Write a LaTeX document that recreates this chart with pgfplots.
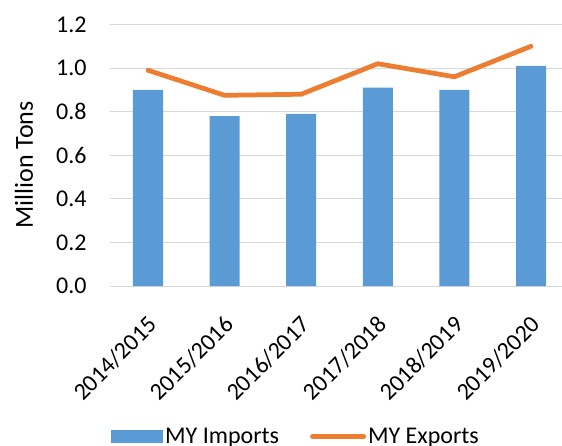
\documentclass[border=0pt]{standalone}
\usepackage{fontspec}
\setmainfont{Carlito}
\usepackage{pgfplots}
\pgfplotsset{compat=1.18}
\definecolor{barblue}{HTML}{5B9BD5}
\definecolor{lineorange}{HTML}{ED7D31}
\definecolor{gridgray}{HTML}{D9D9D9}
\begin{document}
\begin{tikzpicture}[x=1pt,y=1pt]
\useasboundingbox (0,0) rectangle (562,445);
\clip (0,0) rectangle (562,445);
\begin{axis}[
  at={(109.7pt,159pt)}, anchor=south west,
  scale only axis, width=459.6pt, height=261.5pt,
  xmin=-0.5, xmax=5.5, ymin=0, ymax=1.2,
  ytick={0,0.2,0.4,0.6,0.8,1.0,1.2},
  xtick={0,1,2,3,4,5},
  xticklabels={2014/2015,2015/2016,2016/2017,2017/2018,2018/2019,2019/2020},
  ymajorgrids, grid style={gridgray, line width=1pt},
  axis line style={draw=none},
  major tick length=0pt,
  tick label style={font=\fontsize{24}{28}\selectfont},
  /pgf/number format/assume math mode=true,
  yticklabel style={/pgf/number format/fixed, /pgf/number format/fixed zerofill, /pgf/number format/precision=1, inner sep=0pt, anchor=east, xshift=-23pt},
  xticklabel style={rotate=45, anchor=north east, inner sep=0pt, xshift=-21pt, yshift=-19pt},
  ylabel={Million Tons},
  ylabel style={font=\fontsize{26}{31}\selectfont, at={(axis description cs:-0.1865,0.463)}, anchor=center},
  legend columns=2,
  legend style={draw=none, fill=none, at={(axis description cs:0.0028,-0.5763)}, anchor=west, font=\fontsize{24}{28}\selectfont, inner sep=0pt, /tikz/every even column/.append style={column sep=29pt}},
]
\addplot[ybar, bar width=30pt, fill=barblue, draw=none,
  legend image code/.code={\fill[barblue] (0pt,-6.5pt) rectangle (52pt,6.5pt);}]
  coordinates {(0,0.90) (1,0.78) (2,0.79) (3,0.91) (4,0.90) (5,1.01)};
\addlegendentry{MY Imports}
\addplot[lineorange, line width=4.75pt, line cap=round, line join=round,
  legend image code/.code={\draw[lineorange, line width=4.75pt, line cap=round] (2.4pt,0pt) -- (53.6pt,0pt);}]
  coordinates {(0,0.99) (1,0.875) (2,0.88) (3,1.02) (4,0.96) (5,1.10)};
\addlegendentry{MY Exports}
\end{axis}
\end{tikzpicture}
\end{document}
